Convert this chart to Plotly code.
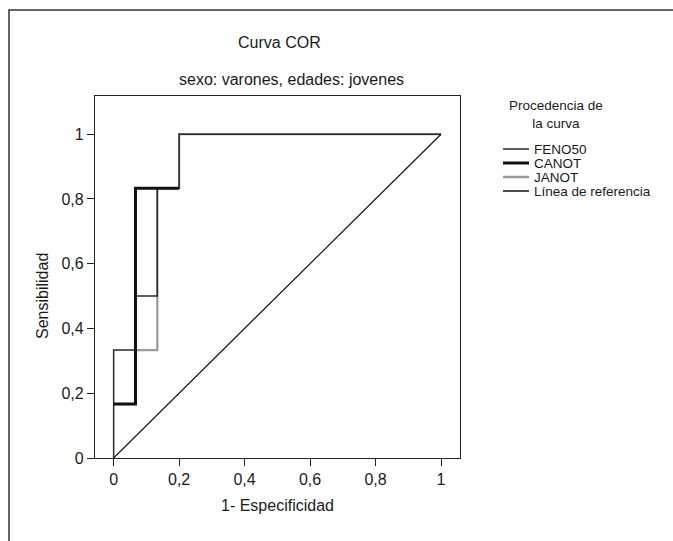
import plotly.graph_objects as go

# ---- data ----
feno50_x = [0, 0, 1/15, 1/15, 2/15, 2/15, 0.2, 0.2, 1]
feno50_y = [0, 1/3, 1/3, 1/2, 1/2, 5/6, 5/6, 1, 1]

canot_x = [0, 1/15, 1/15, 0.2]
canot_y = [1/6, 1/6, 5/6, 5/6]

janot_x = [0, 1/15, 1/15, 2/15, 2/15, 2/15, 0.2, 0.2, 1]
janot_y = [1/6, 1/6, 1/3, 1/3, 1/2, 5/6, 5/6, 1, 1]

ref_x = [0, 1]
ref_y = [0, 1]

tick_vals = [0, 0.2, 0.4, 0.6, 0.8, 1]
tick_text = ["0", "0,2", "0,4", "0,6", "0,8", "1"]

series_names = ["FENO50", "CANOT", "JANOT", "Línea de referencia"]

FONT = "Liberation Sans, Arial, sans-serif"
TXT = "#1a1a1a"

# plot-area pixel geometry (for placing paper-referenced decorations)
L, R, T, B = 95, 460, 96, 458
def px(x):
    return (x - L) / (R - L)
def py(y):
    return (B - y) / (B - T)

fig = go.Figure()
fig.add_trace(go.Scatter(x=janot_x, y=janot_y, mode="lines", name="JANOT",
                         line=dict(color="#9a9a9a", width=2.2), showlegend=False))
fig.add_trace(go.Scatter(x=feno50_x, y=feno50_y, mode="lines", name="FENO50",
                         line=dict(color="#2a2a2a", width=1.5), showlegend=False))
fig.add_trace(go.Scatter(x=canot_x, y=canot_y, mode="lines", name="CANOT",
                         line=dict(color="#111111", width=3), showlegend=False))
fig.add_trace(go.Scatter(x=ref_x, y=ref_y, mode="lines", name="Línea de referencia",
                         line=dict(color="#111111", width=1.2), showlegend=False))

axis_common = dict(
    showline=True, mirror=True, linecolor="#222222", linewidth=1.2,
    ticks="outside", ticklen=7, tickwidth=1, tickcolor="#222222",
    showgrid=False, zeroline=False,
    tickvals=tick_vals, ticktext=tick_text,
    tickfont=dict(family=FONT, size=16, color=TXT),
)

fig.update_layout(
    width=673, height=541,
    margin=dict(l=L, r=673 - R, t=T, b=541 - B, pad=0),
    paper_bgcolor="white", plot_bgcolor="white",
    font=dict(family=FONT, size=16, color=TXT),
    showlegend=False,
    xaxis=dict(range=[-0.057, 1.058],
               title=dict(text="1- Especificidad", standoff=12,
                          font=dict(family=FONT, size=16, color=TXT)),
               **axis_common),
    yaxis=dict(range=[0, 1.118], **axis_common),
)

annotations = [
    dict(text="Curva COR", x=px(279), y=py(43), xref="paper", yref="paper",
         showarrow=False, xanchor="center", yanchor="middle",
         font=dict(family=FONT, size=16, color=TXT)),
    dict(text="sexo: varones, edades: jovenes", x=px(291), y=py(80),
         xref="paper", yref="paper", showarrow=False,
         xanchor="center", yanchor="middle",
         font=dict(family=FONT, size=16, color=TXT)),
    dict(text="Sensibilidad", x=px(42), y=py(296), xref="paper", yref="paper",
         showarrow=False, textangle=-90, xanchor="center", yanchor="middle",
         font=dict(family=FONT, size=16, color=TXT)),
    dict(text="Procedencia de<br>la curva", x=px(556), y=py(114),
         xref="paper", yref="paper", showarrow=False, align="center",
         xanchor="center", yanchor="middle",
         font=dict(family=FONT, size=13.5, color=TXT)),
]

shapes = [
    # outer frame (left and top edges visible)
    dict(type="rect", xref="paper", yref="paper",
         x0=px(9), x1=px(700), y0=py(560), y1=py(10),
         line=dict(color="#333333", width=1.5), fillcolor="rgba(0,0,0,0)",
         layer="below"),
]

legend_styles = [
    dict(color="#2a2a2a", width=1.5),
    dict(color="#111111", width=3),
    dict(color="#9a9a9a", width=2.5),
    dict(color="#111111", width=1.5),
]
legend_y = [149, 163, 177, 191]
for name, st, yy in zip(series_names, legend_styles, legend_y):
    shapes.append(dict(type="line", xref="paper", yref="paper",
                       x0=px(503), x1=px(529), y0=py(yy), y1=py(yy), line=st))
    annotations.append(dict(text=name, x=px(532), y=py(yy), xref="paper",
                            yref="paper", showarrow=False, xanchor="left",
                            yanchor="middle",
                            font=dict(family=FONT, size=13.5, color=TXT)))

fig.update_layout(annotations=annotations, shapes=shapes)

fig.write_html("out.html")
